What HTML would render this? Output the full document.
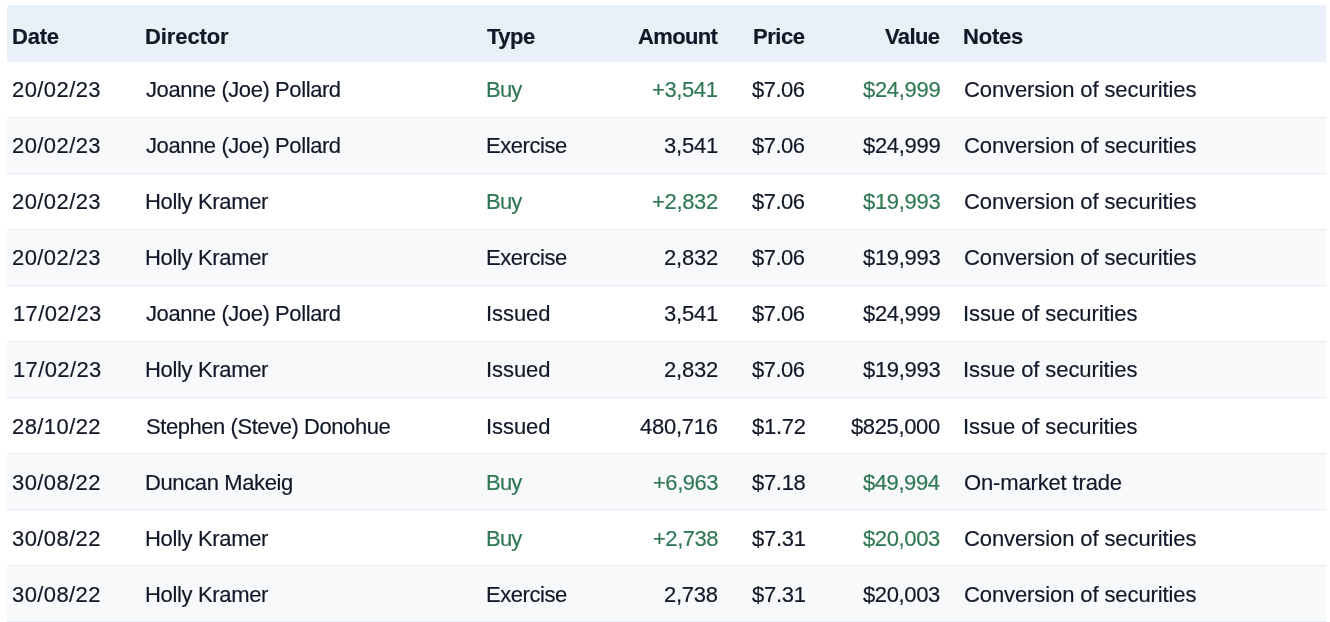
<!DOCTYPE html><html><head><meta charset="utf-8"><style>
*{margin:0;padding:0;box-sizing:border-box}
html,body{width:1330px;height:622px;background:#fff;overflow:hidden}
body{font-family:"Liberation Sans",sans-serif;color:#111827;position:relative}
.hd{position:absolute;left:7px;top:5px;width:1319px;height:57px;background:#E9F0F8;border-radius:3px 3px 0 0}
.r{position:absolute;left:0;width:1330px;height:56px}
.bg{position:absolute;left:7px;top:0;width:1319px;height:56px;border-bottom:1px solid #E5ECF6}
.alt .bg{background:#F8F9FB}
.t{will-change:transform;position:absolute;font-size:22px;line-height:22px;white-space:nowrap;-webkit-text-stroke:0.18px currentColor}
.h{font-weight:bold}
.g{color:#307854}
</style></head><body>
<div class="hd"></div>
<div class="t h" style="left:12.42px;top:26px;letter-spacing:-0.242px">Date</div>
<div class="t h" style="left:145.42px;top:26px;letter-spacing:-0.1px">Director</div>
<div class="t h" style="left:486.63px;top:26px;letter-spacing:-0.48px">Type</div>
<div class="t h" style="left:638.46px;top:26px;letter-spacing:-0.651px">Amount</div>
<div class="t h" style="left:752.82px;top:26px;letter-spacing:-0.457px">Price</div>
<div class="t h" style="left:884.74px;top:26px;letter-spacing:-0.599px">Value</div>
<div class="t h" style="left:963.42px;top:26px;letter-spacing:-0.225px">Notes</div>
<div class="r" style="top:62px"><div class="bg"></div>
<div class="t" style="left:12.27px;top:17px;letter-spacing:0.419px">20/02/23</div>
<div class="t" style="left:146.09px;top:17px;letter-spacing:-0.416px">Joanne (Joe) Pollard</div>
<div class="t g" style="left:486.19px;top:17px;letter-spacing:-0.769px">Buy</div>
<div class="t g" style="left:652.41px;top:17px;letter-spacing:-0.399px">+3,541</div>
<div class="t" style="left:752.03px;top:17px;letter-spacing:-0.522px">$7.06</div>
<div class="t g" style="left:862.73px;top:17px;letter-spacing:-0.304px">$24,999</div>
<div class="t" style="left:963.62px;top:17px;letter-spacing:-0.1px">Conversion of securities</div>
</div>
<div class="r alt" style="top:118px"><div class="bg"></div>
<div class="t" style="left:12.27px;top:17px;letter-spacing:0.419px">20/02/23</div>
<div class="t" style="left:146.09px;top:17px;letter-spacing:-0.416px">Joanne (Joe) Pollard</div>
<div class="t" style="left:486.09px;top:17px;letter-spacing:-0.452px">Exercise</div>
<div class="t" style="left:664.43px;top:17px;letter-spacing:-0.229px">3,541</div>
<div class="t" style="left:752.03px;top:17px;letter-spacing:-0.522px">$7.06</div>
<div class="t" style="left:862.73px;top:17px;letter-spacing:-0.304px">$24,999</div>
<div class="t" style="left:963.62px;top:17px;letter-spacing:-0.1px">Conversion of securities</div>
</div>
<div class="r" style="top:174px"><div class="bg"></div>
<div class="t" style="left:12.27px;top:17px;letter-spacing:0.419px">20/02/23</div>
<div class="t" style="left:144.99px;top:17px;letter-spacing:-0.335px">Holly Kramer</div>
<div class="t g" style="left:486.19px;top:17px;letter-spacing:-0.769px">Buy</div>
<div class="t g" style="left:652.21px;top:17px;letter-spacing:-0.332px">+2,832</div>
<div class="t" style="left:752.03px;top:17px;letter-spacing:-0.522px">$7.06</div>
<div class="t g" style="left:862.73px;top:17px;letter-spacing:-0.315px">$19,993</div>
<div class="t" style="left:963.62px;top:17px;letter-spacing:-0.1px">Conversion of securities</div>
</div>
<div class="r alt" style="top:230px"><div class="bg"></div>
<div class="t" style="left:12.27px;top:17px;letter-spacing:0.419px">20/02/23</div>
<div class="t" style="left:144.99px;top:17px;letter-spacing:-0.335px">Holly Kramer</div>
<div class="t" style="left:486.09px;top:17px;letter-spacing:-0.452px">Exercise</div>
<div class="t" style="left:664.27px;top:17px;letter-spacing:-0.181px">2,832</div>
<div class="t" style="left:752.03px;top:17px;letter-spacing:-0.522px">$7.06</div>
<div class="t" style="left:862.73px;top:17px;letter-spacing:-0.315px">$19,993</div>
<div class="t" style="left:963.62px;top:17px;letter-spacing:-0.1px">Conversion of securities</div>
</div>
<div class="r" style="top:286px"><div class="bg"></div>
<div class="t" style="left:12.63px;top:17px;letter-spacing:0.382px">17/02/23</div>
<div class="t" style="left:146.09px;top:17px;letter-spacing:-0.416px">Joanne (Joe) Pollard</div>
<div class="t" style="left:485.85px;top:17px;letter-spacing:-0.066px">Issued</div>
<div class="t" style="left:664.43px;top:17px;letter-spacing:-0.229px">3,541</div>
<div class="t" style="left:752.03px;top:17px;letter-spacing:-0.522px">$7.06</div>
<div class="t" style="left:862.73px;top:17px;letter-spacing:-0.304px">$24,999</div>
<div class="t" style="left:962.85px;top:17px;letter-spacing:-0.089px">Issue of securities</div>
</div>
<div class="r alt" style="top:342px"><div class="bg"></div>
<div class="t" style="left:12.63px;top:17px;letter-spacing:0.382px">17/02/23</div>
<div class="t" style="left:144.99px;top:17px;letter-spacing:-0.335px">Holly Kramer</div>
<div class="t" style="left:485.85px;top:17px;letter-spacing:-0.066px">Issued</div>
<div class="t" style="left:664.27px;top:17px;letter-spacing:-0.181px">2,832</div>
<div class="t" style="left:752.03px;top:17px;letter-spacing:-0.522px">$7.06</div>
<div class="t" style="left:862.73px;top:17px;letter-spacing:-0.315px">$19,993</div>
<div class="t" style="left:962.85px;top:17px;letter-spacing:-0.089px">Issue of securities</div>
</div>
<div class="r" style="top:398px"><div class="bg"></div>
<div class="t" style="left:12.27px;top:18px;letter-spacing:0.417px">28/10/22</div>
<div class="t" style="left:145.53px;top:18px;letter-spacing:-0.439px">Stephen (Steve) Donohue</div>
<div class="t" style="left:485.85px;top:18px;letter-spacing:-0.066px">Issued</div>
<div class="t" style="left:640.29px;top:18px;letter-spacing:-0.274px">480,716</div>
<div class="t" style="left:751.53px;top:18px;letter-spacing:-0.272px">$1.72</div>
<div class="t" style="left:850.83px;top:18px;letter-spacing:-0.378px">$825,000</div>
<div class="t" style="left:962.85px;top:18px;letter-spacing:-0.089px">Issue of securities</div>
</div>
<div class="r alt" style="top:454px"><div class="bg"></div>
<div class="t" style="left:12.33px;top:18px;letter-spacing:0.409px">30/08/22</div>
<div class="t" style="left:145.19px;top:18px;letter-spacing:-0.376px">Duncan Makeig</div>
<div class="t g" style="left:486.19px;top:18px;letter-spacing:-0.769px">Buy</div>
<div class="t g" style="left:652.51px;top:18px;letter-spacing:-0.474px">+6,963</div>
<div class="t" style="left:751.53px;top:18px;letter-spacing:-0.302px">$7.18</div>
<div class="t g" style="left:862.73px;top:18px;letter-spacing:-0.426px">$49,994</div>
<div class="t" style="left:963.8px;top:18px;letter-spacing:-0.148px">On-market trade</div>
</div>
<div class="r" style="top:510px"><div class="bg"></div>
<div class="t" style="left:12.33px;top:18px;letter-spacing:0.409px">30/08/22</div>
<div class="t" style="left:144.99px;top:18px;letter-spacing:-0.335px">Holly Kramer</div>
<div class="t g" style="left:486.19px;top:18px;letter-spacing:-0.769px">Buy</div>
<div class="t g" style="left:652.51px;top:18px;letter-spacing:-0.476px">+2,738</div>
<div class="t" style="left:751.53px;top:18px;letter-spacing:-0.281px">$7.31</div>
<div class="t g" style="left:862.73px;top:18px;letter-spacing:-0.365px">$20,003</div>
<div class="t" style="left:963.62px;top:18px;letter-spacing:-0.1px">Conversion of securities</div>
</div>
<div class="r alt" style="top:566px"><div class="bg"></div>
<div class="t" style="left:12.33px;top:18px;letter-spacing:0.409px">30/08/22</div>
<div class="t" style="left:144.99px;top:18px;letter-spacing:-0.335px">Holly Kramer</div>
<div class="t" style="left:486.09px;top:18px;letter-spacing:-0.452px">Exercise</div>
<div class="t" style="left:664.27px;top:18px;letter-spacing:-0.287px">2,738</div>
<div class="t" style="left:751.53px;top:18px;letter-spacing:-0.281px">$7.31</div>
<div class="t" style="left:862.73px;top:18px;letter-spacing:-0.365px">$20,003</div>
<div class="t" style="left:963.62px;top:18px;letter-spacing:-0.1px">Conversion of securities</div>
</div>
</body></html>
